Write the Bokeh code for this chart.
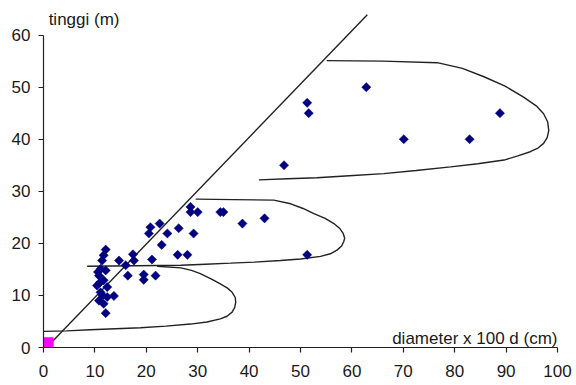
import numpy as np
from bokeh.plotting import figure
from bokeh.models import Range1d, Label, FixedTicker
from bokeh.embed import file_html
from bokeh.resources import INLINE

# scatter data: diameter x 100 d (cm) vs tinggi (m)
diam = [12.1, 11.7, 11.4, 11.1, 12.1, 10.8, 11.7, 10.4, 12.4, 11.1, 13.7, 12.4, 10.8, 11.7, 12.1,
        11.0, 11.5, 10.6,
        14.7, 16.0, 17.4, 17.6, 16.4, 19.5, 19.5, 21.1, 21.8, 20.5, 20.8, 22.6, 23.0, 24.1,
        26.3, 26.1, 28.0, 28.6, 28.6, 30.0, 29.2, 34.4, 35.0, 38.7, 43.0, 51.3,
        46.8, 51.3, 51.6, 62.8, 70.1, 82.9, 88.8]
tinggi = [18.8, 17.7, 16.7, 15.1, 14.8, 13.8, 12.9, 11.9, 11.6, 10.6, 9.9, 9.7, 9.0, 8.4, 6.6,
          12.5, 10.0, 14.5,
          16.7, 15.8, 17.9, 16.7, 13.8, 14.0, 13.0, 16.9, 13.8, 21.9, 23.1, 23.8, 19.7, 21.9,
          22.9, 17.8, 17.8, 27.0, 26.0, 26.0, 21.9, 26.0, 26.0, 23.8, 24.8, 17.8,
          35.0, 47.0, 45.0, 50.0, 40.0, 40.0, 45.0]

# origin point
origin_x = [1.0]
origin_y = [1.0]

# diagonal reference line
diag_x = [0.6, 63.0]
diag_y = [0.0, 63.9]

# hand-drawn enclosures
curve1_x = [55.1, 66.0, 76.6, 81.5, 85.7, 89.8, 93.4, 96.0, 97.3, 98.1, 98.3, 98.0, 97.3, 96.2, 94.7,
            92.3, 89.6, 84.5, 79.2, 72.5, 66.2, 59.5, 53.2, 47.5, 41.9]
curve1_y = [55.1, 55.0, 54.7, 53.6, 52.0, 50.2, 48.1, 46.3, 44.9, 43.3, 41.7, 40.3, 39.2, 38.3, 37.6,
            36.8, 36.0, 35.3, 34.7, 34.0, 33.4, 33.0, 32.6, 32.4, 32.2]
curve2_x = [29.6, 37.0, 44.8, 48.1, 50.5, 52.6, 54.8, 56.5, 57.7, 58.3, 58.6, 58.4, 58.0, 57.1, 55.8,
            53.9, 50.0, 46.1, 41.0, 36.4, 31.5, 26.7, 18.0, 8.5]
curve2_y = [28.5, 28.4, 28.3, 27.6, 26.7, 25.7, 24.8, 23.8, 22.8, 21.9, 21.0, 20.3, 19.5, 18.7, 18.0,
            17.5, 17.0, 16.7, 16.4, 16.2, 16.0, 15.8, 15.7, 15.6]
curve3_x = [22.1, 26.7, 28.8, 30.5, 32.6, 34.4, 35.8, 36.7, 37.3, 37.4, 37.2, 36.7, 35.7, 34.4, 31.8,
            28.6, 23.8, 18.9, 14.0, 9.1, 4.5, 0.1]
curve3_y = [15.6, 15.3, 14.8, 14.2, 13.2, 12.2, 11.4, 10.6, 9.6, 8.7, 7.7, 6.8, 6.0, 5.5, 4.9,
            4.5, 4.1, 3.8, 3.6, 3.4, 3.2, 3.1]

x_ticks = [0, 10, 20, 30, 40, 50, 60, 70, 80, 90, 100]
y_ticks = [0, 10, 20, 30, 40, 50, 60]

FONT = "Liberation Sans"

p = figure(frame_width=514, frame_height=340,
           x_range=Range1d(0, 100), y_range=Range1d(0, 65.3),
           output_backend="svg", toolbar_location=None,
           min_border_left=43, min_border_right=19, min_border_top=7, min_border_bottom=30)
p.outline_line_color = None
p.background_fill_color = "white"
p.border_fill_color = "white"
p.xgrid.visible = False
p.ygrid.visible = False

for ax in (p.xaxis[0], p.yaxis[0]):
    ax.axis_line_color = "#222222"
    ax.axis_line_width = 1.2
    ax.major_tick_line_color = "#222222"
    ax.major_tick_line_width = 1.2
    ax.major_tick_out = 5
    ax.major_tick_in = 0
    ax.minor_tick_line_color = None
    ax.major_label_text_font = FONT
    ax.major_label_text_font_size = "17px"
    ax.major_label_text_color = "#1a1a1a"

p.xaxis[0].ticker = FixedTicker(ticks=x_ticks)
p.yaxis[0].ticker = FixedTicker(ticks=y_ticks)
p.xaxis[0].bounds = (0, 100)
p.yaxis[0].bounds = (0, 60)
p.xaxis[0].major_label_standoff = 12
p.yaxis[0].major_label_standoff = 8

# enclosures
p.line(curve1_x, curve1_y, line_color="#222222", line_width=1.4)
p.line(curve2_x, curve2_y, line_color="#222222", line_width=1.4)
p.line(curve3_x, curve3_y, line_color="#222222", line_width=1.4)

# diagonal line
p.line(diag_x, diag_y, line_color="#222222", line_width=1.4)

# points
p.scatter(diam, tinggi, marker="square", angle=np.pi / 4, size=6.5,
          fill_color="#000080", line_color="#000080", line_width=0.5)
p.scatter(origin_x, origin_y, marker="square", size=9,
          fill_color="#FF00FF", line_color="#FF00FF")

p.add_layout(Label(x=1, y=64.8, text="tinggi (m)", text_font=FONT, text_font_size="17px",
                   text_color="#1a1a1a", text_baseline="top", text_align="left"))
p.add_layout(Label(x=100, y=1.8, text="diameter x 100 d (cm)", text_font=FONT,
                   text_font_size="17px", text_color="#1a1a1a",
                   text_baseline="alphabetic", text_align="right"))

open("out.html", "w").write(file_html(p, INLINE))
